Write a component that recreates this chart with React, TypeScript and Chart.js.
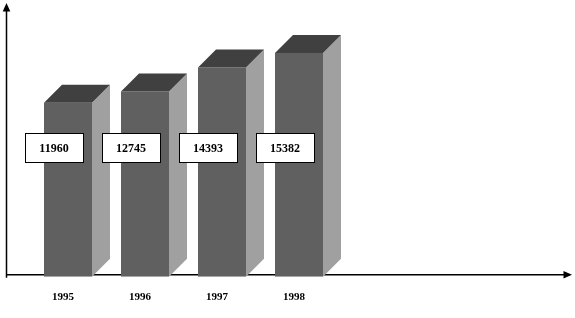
import React, { useEffect, useRef } from 'react';
import { Chart, registerables } from 'chart.js';

Chart.register(...registerables);

const categories = ['1995', '1996', '1997', '1998'];
const values = [11960, 12745, 14393, 15382];
const yMin = 0;
const yMax = 18000;

const FRONT = '#606060';
const TOP = '#404040';
const SIDE = '#a0a0a0';
const DEPTH = 18;

const axesPlugin = {
  id: 'arrowAxes',
  beforeDatasetsDraw(chart: any) {
    const ctx = chart.ctx;
    const area = chart.chartArea;
    const axisY = area.bottom - 2;
    const axisX = 6.5;
    ctx.save();
    ctx.strokeStyle = '#000';
    ctx.fillStyle = '#000';
    ctx.lineWidth = 1.5;
    // y axis
    ctx.beginPath();
    ctx.moveTo(axisX, area.bottom + 1);
    ctx.lineTo(axisX, 10);
    ctx.stroke();
    ctx.beginPath();
    ctx.moveTo(axisX, 3);
    ctx.lineTo(axisX - 3.8, 11.5);
    ctx.lineTo(axisX + 3.8, 11.5);
    ctx.closePath();
    ctx.fill();
    // x axis
    const w = chart.width;
    ctx.beginPath();
    ctx.moveTo(6, axisY);
    ctx.lineTo(w - 8, axisY);
    ctx.stroke();
    ctx.beginPath();
    ctx.moveTo(w - 3, axisY);
    ctx.lineTo(w - 11.5, axisY - 3.8);
    ctx.lineTo(w - 11.5, axisY + 3.8);
    ctx.closePath();
    ctx.fill();
    ctx.restore();
  },
};

const threeDPlugin = {
  id: 'threeD',
  afterDatasetsDraw(chart: any) {
    const ctx = chart.ctx;
    const meta = chart.getDatasetMeta(0);
    const d = DEPTH;
    ctx.save();
    meta.data.forEach((bar: any) => {
      const { x, y, base, width } = bar.getProps(['x', 'y', 'base', 'width'], true);
      const l = x - width / 2;
      const r = x + width / 2;
      // side face
      ctx.fillStyle = SIDE;
      ctx.beginPath();
      ctx.moveTo(r, y);
      ctx.lineTo(r + d, y - d);
      ctx.lineTo(r + d, base - d);
      ctx.lineTo(r, base);
      ctx.closePath();
      ctx.fill();
      // top face
      ctx.fillStyle = TOP;
      ctx.beginPath();
      ctx.moveTo(l, y);
      ctx.lineTo(l + d, y - d);
      ctx.lineTo(r + d, y - d);
      ctx.lineTo(r, y);
      ctx.closePath();
      ctx.fill();
    });
    // value label boxes
    meta.data.forEach((bar: any, i: number) => {
      const { x } = bar.getProps(['x'], true);
      const cx = x - 14;
      const bw = 58;
      const bh = 29;
      const bx = Math.round(cx - bw / 2) + 0.5;
      const by = 133.5;
      ctx.fillStyle = '#ffffff';
      ctx.fillRect(bx, by, bw, bh);
      ctx.strokeStyle = '#000';
      ctx.lineWidth = 1;
      ctx.strokeRect(bx, by, bw, bh);
      ctx.fillStyle = '#000';
      ctx.font = 'bold 12px "Liberation Serif", "Times New Roman", serif';
      ctx.textAlign = 'center';
      ctx.textBaseline = 'middle';
      ctx.fillText(String(values[i]), cx, by + bh / 2 + 0.5);
    });
    ctx.restore();
  },
};

export default function App() {
  const ref = useRef<HTMLCanvasElement | null>(null);
  useEffect(() => {
    if (!ref.current) return;
    const chart = new Chart(ref.current, {
      type: 'bar',
      data: {
        labels: categories,
        datasets: [
          {
            data: values,
            backgroundColor: FRONT,
            borderWidth: 0,
            barPercentage: 48 / 77,
            categoryPercentage: 1,
          },
        ],
      },
      options: {
        animation: false,
        responsive: true,
        maintainAspectRatio: false,
        layout: { padding: { left: 29.5, right: 237.5, top: 15, bottom: 0 } },
        plugins: { legend: { display: false }, tooltip: { enabled: false } },
        scales: {
          x: {
            grid: { display: false, drawTicks: false },
            border: { display: false },
            ticks: {
              color: '#000',
              padding: 14,
              labelOffset: -5,
              font: { family: '"Liberation Serif", "Times New Roman", serif', size: 11, weight: 'bold' },
            },
          },
          y: { display: false, min: yMin, max: yMax },
        },
      },
      plugins: [axesPlugin, threeDPlugin],
    });
    return () => chart.destroy();
  }, []);
  return (
    <div style={{ position: 'fixed', left: 0, top: 0, width: 575, height: 318, background: '#fff' }}>
      <canvas ref={ref} />
    </div>
  );
}
